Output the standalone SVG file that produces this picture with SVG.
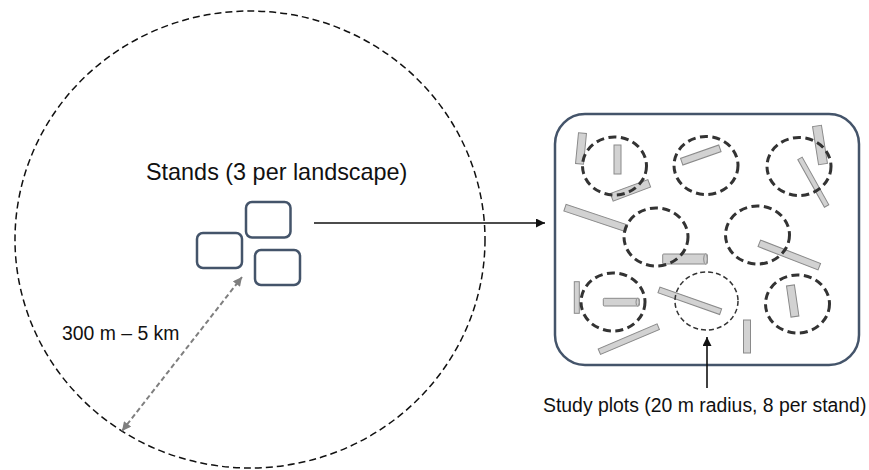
<svg xmlns="http://www.w3.org/2000/svg" width="869" height="470" viewBox="0 0 869 470">
  <defs>
    <style>
      .label { font-family: "Liberation Sans", Arial, sans-serif; fill: #111; }
      .landscape { fill: none; stroke: #111; stroke-width: 1.5; stroke-dasharray: 7 4; }
      .stand-box { fill: #fff; stroke: #44546A; stroke-width: 2.5; }
      .plot { fill: none; stroke: #333; stroke-width: 3; stroke-dasharray: 8 4.5; }
      .plot-thin { fill: none; stroke: #333; stroke-width: 1.5; stroke-dasharray: 5 3; }
      .log { fill: #d2d2d2; stroke: #8a8a8a; stroke-width: 1; }
      .link { stroke: #111; stroke-width: 1.6; fill: none; }
      .dist { stroke: #7f7f7f; stroke-width: 2; stroke-dasharray: 5 3; fill: none; }
    </style>
    <marker id="head" viewBox="0 0 10 10" refX="10" refY="5" markerWidth="11" markerHeight="9" markerUnits="userSpaceOnUse" orient="auto">
      <path d="M0,0 L10,5 L0,10 Z" fill="#111"/>
    </marker>
    <marker id="head-grey" viewBox="0 0 10 10" refX="10" refY="5" markerWidth="10" markerHeight="9" markerUnits="userSpaceOnUse" orient="auto-start-reverse">
      <path d="M0,0 L10,5 L0,10 Z" fill="#7f7f7f"/>
    </marker>
  </defs>

  <!-- landscape boundary -->
  <g id="landscape">
    <ellipse class="landscape" cx="250" cy="239.5" rx="235" ry="228.5"/>
    <text class="label" x="146" y="180" font-size="23.4">Stands (3 per landscape)</text>
    <text class="label" x="62" y="340" font-size="19.4">300 m – 5 km</text>
  </g>

  <!-- three stands -->
  <g id="stands">
    <rect class="stand-box" x="246" y="202" width="44.5" height="35.5" rx="6"/>
    <rect class="stand-box" x="197" y="233" width="45" height="35" rx="6"/>
    <rect class="stand-box" x="255" y="250" width="45" height="35" rx="6"/>
  </g>

  <!-- stand detail with plots and logs -->
  <g id="stand-detail">
    <rect x="555" y="114" width="304" height="251" rx="30" fill="#fff" stroke="#44546A" stroke-width="2.5"/>
    <g id="logs">
      <rect class="log" x="565.5" y="144.5" width="31" height="8" transform="rotate(95.5 581 148.5)"/>
      <rect class="log" x="603" y="156" width="29" height="7" transform="rotate(90 617.5 159.5)"/>
      <rect class="log" x="610.5" y="186.3" width="40" height="8" transform="rotate(-20.4 630.5 190.3)"/>
      <rect class="log" x="680.55" y="151.5" width="40.5" height="7" transform="rotate(-19.3 700.8 155)"/>
      <rect class="log" x="800.75" y="140.5" width="38.5" height="9" transform="rotate(81 820 145)"/>
      <rect class="log" x="786" y="179.7" width="54.6" height="5" transform="rotate(60.8 813.3 182.2)"/>
      <rect class="log" x="563.3" y="214.5" width="65" height="7" transform="rotate(18.5 595.8 218)"/>
      <rect class="log" x="662.7" y="254" width="44.6" height="10" rx="1"/>
      <ellipse class="log" cx="705.5" cy="259" rx="1.8" ry="5"/>
      <rect class="log" x="757.1" y="251.5" width="64.4" height="7" transform="rotate(21.3 789.3 255)"/>
      <rect class="log" x="561" y="295" width="31.6" height="5" transform="rotate(90 576.8 297.5)"/>
      <rect class="log" x="603.3" y="298.3" width="36" height="7.7" rx="1"/>
      <ellipse class="log" cx="637.6" cy="302.15" rx="1.6" ry="3.85"/>
      <rect class="log" x="657.1" y="297.8" width="65.4" height="6" transform="rotate(19.4 689.8 300.8)"/>
      <rect class="log" x="596.8" y="336.2" width="64" height="6" transform="rotate(-23 628.8 339.2)"/>
      <rect class="log" x="730.5" y="333" width="33" height="7" transform="rotate(90 747 336.5)"/>
      <rect class="log" x="776.95" y="297" width="31.5" height="8" transform="rotate(81.8 792.7 301)"/>
    </g>
    <g id="plots">
      <ellipse id="plot-1" class="plot" cx="614.5" cy="166" rx="32" ry="29"/>
      <ellipse id="plot-2" class="plot" cx="706" cy="165.5" rx="32" ry="29"/>
      <ellipse id="plot-3" class="plot" cx="799" cy="166.5" rx="32" ry="29"/>
      <ellipse id="plot-4" class="plot" cx="656" cy="237" rx="32" ry="29"/>
      <ellipse id="plot-5" class="plot" cx="757.5" cy="235" rx="32" ry="29"/>
      <ellipse id="plot-6" class="plot" cx="613" cy="302" rx="32" ry="29"/>
      <ellipse id="plot-7" class="plot-thin" cx="706.5" cy="301" rx="31.5" ry="29"/>
      <ellipse id="plot-8" class="plot" cx="797.5" cy="304" rx="32" ry="29"/>
    </g>
    <text class="label" x="543" y="412" font-size="19.4">Study plots (20 m radius, 8 per stand)</text>
  </g>

  <!-- connectors -->
  <g id="connectors">
    <line class="link" x1="314" y1="223" x2="545" y2="223" marker-end="url(#head)"/>
    <line class="link" x1="707" y1="388" x2="707" y2="337" marker-end="url(#head)"/>
    <line class="dist" x1="122" y1="431" x2="242" y2="277" marker-start="url(#head-grey)" marker-end="url(#head-grey)"/>
  </g>
</svg>
